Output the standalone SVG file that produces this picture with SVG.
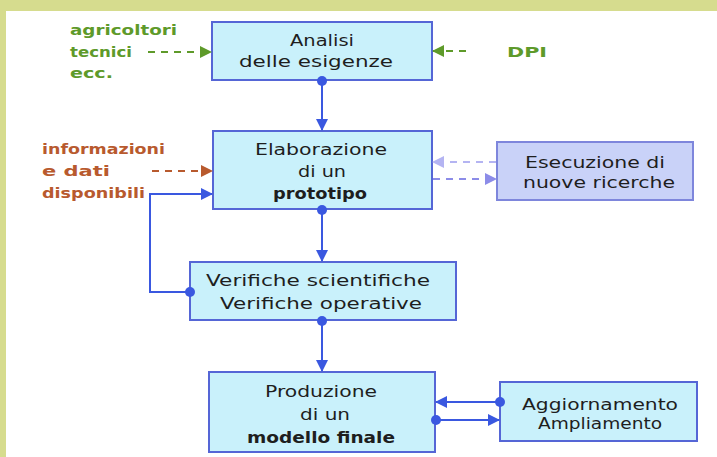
<svg xmlns="http://www.w3.org/2000/svg" width="717" height="457" viewBox="0 0 717 457">
<style>
.box{fill:#c9f1fb;stroke:#5566d6;stroke-width:2}
.box2{fill:#c9d2f8;stroke:#7e86dc;stroke-width:2}
.t{font-family:"DejaVu Sans",Verdana,sans-serif;font-size:16px;fill:#1e1e1e}
.b{font-weight:bold}
.g{font-family:"DejaVu Sans",Verdana,sans-serif;font-size:14px;font-weight:bold;fill:#5e9a2a}
.r{font-family:"DejaVu Sans",Verdana,sans-serif;font-size:14px;font-weight:bold;fill:#b85a2e}
.c{fill:none;stroke:#3a58e0;stroke-width:2}
.dot{fill:#3a58e0}
</style>
<defs>
<marker id="ab" markerUnits="userSpaceOnUse" markerWidth="12" markerHeight="12" refX="11" refY="6" orient="auto"><path d="M0,0 L12,6 L0,12 z" fill="#3a58e0"/></marker>
<marker id="ag" markerUnits="userSpaceOnUse" markerWidth="12" markerHeight="12" refX="11" refY="6" orient="auto"><path d="M0,0 L12,6 L0,12 z" fill="#5e9a2a"/></marker>
<marker id="ar" markerUnits="userSpaceOnUse" markerWidth="12" markerHeight="12" refX="11" refY="6" orient="auto"><path d="M0,0 L12,6 L0,12 z" fill="#b85a2e"/></marker>
<marker id="ap" markerUnits="userSpaceOnUse" markerWidth="12" markerHeight="12" refX="11" refY="6" orient="auto"><path d="M0,0 L12,6 L0,12 z" fill="#8c8ce8"/></marker>
<marker id="al" markerUnits="userSpaceOnUse" markerWidth="12" markerHeight="12" refX="11" refY="6" orient="auto"><path d="M0,0 L12,6 L0,12 z" fill="#b4b4f2"/></marker>
</defs>
<rect x="0" y="0" width="717" height="457" fill="#d6dc8e"/>
<rect x="6" y="11" width="711" height="446" fill="#ffffff"/>

<g id="labels-left">
<text class="g" x="70" y="35" textLength="107" lengthAdjust="spacingAndGlyphs">agricoltori</text>
<text class="g" x="70" y="57" textLength="62" lengthAdjust="spacingAndGlyphs">tecnici</text>
<text class="g" x="70" y="78" textLength="43" lengthAdjust="spacingAndGlyphs">ecc.</text>
</g>
<g id="label-dpi">
<text class="g" x="507" y="57" font-size="16" textLength="40" lengthAdjust="spacingAndGlyphs">DPI</text>
</g>
<g id="label-info">
<text class="r" x="42" y="154" textLength="123" lengthAdjust="spacingAndGlyphs">informazioni</text>
<text class="r" x="42" y="176" textLength="68" lengthAdjust="spacingAndGlyphs">e dati</text>
<text class="r" x="42" y="198" textLength="103" lengthAdjust="spacingAndGlyphs">disponibili</text>
</g>

<g id="analisi">
<rect class="box" x="212" y="22" width="220" height="58"/>
<text class="t" x="290" y="46" textLength="64" lengthAdjust="spacingAndGlyphs">Analisi</text>
<text class="t" x="239" y="67" textLength="154" lengthAdjust="spacingAndGlyphs">delle esigenze</text>
</g>

<g id="elaborazione">
<rect class="box" x="213" y="131" width="219" height="78"/>
<text class="t" x="255" y="155" textLength="132" lengthAdjust="spacingAndGlyphs">Elaborazione</text>
<text class="t" x="298" y="177" textLength="48" lengthAdjust="spacingAndGlyphs">di un</text>
<text class="t b" x="273" y="199" textLength="94" lengthAdjust="spacingAndGlyphs">prototipo</text>
</g>

<g id="esecuzione">
<rect class="box2" x="497" y="142" width="196" height="58"/>
<text class="t" x="525" y="168" textLength="140" lengthAdjust="spacingAndGlyphs">Esecuzione di</text>
<text class="t" x="523" y="188" textLength="152" lengthAdjust="spacingAndGlyphs">nuove ricerche</text>
</g>

<g id="verifiche">
<rect class="box" x="190" y="262" width="266" height="58"/>
<text class="t" x="206" y="286" textLength="224" lengthAdjust="spacingAndGlyphs">Verifiche scientifiche</text>
<text class="t" x="220" y="309" textLength="202" lengthAdjust="spacingAndGlyphs">Verifiche operative</text>
</g>

<g id="produzione">
<rect class="box" x="209" y="372" width="226" height="80"/>
<text class="t" x="265" y="397" textLength="112" lengthAdjust="spacingAndGlyphs">Produzione</text>
<text class="t" x="300" y="420" textLength="50" lengthAdjust="spacingAndGlyphs">di un</text>
<text class="t b" x="247" y="443" textLength="148" lengthAdjust="spacingAndGlyphs">modello  finale</text>
</g>

<g id="aggiornamento">
<rect class="box" x="500" y="382" width="197" height="59"/>
<text class="t" x="522" y="410" textLength="156" lengthAdjust="spacingAndGlyphs">Aggiornamento</text>
<text class="t" x="538" y="429" textLength="124" lengthAdjust="spacingAndGlyphs">Ampliamento</text>
</g>

<g id="connectors">
<line class="c" x1="322" y1="80" x2="322" y2="130" marker-end="url(#ab)"/>
<circle class="dot" cx="322" cy="81" r="5"/>
<line class="c" x1="322" y1="209" x2="322" y2="261" marker-end="url(#ab)"/>
<circle class="dot" cx="322" cy="210" r="5"/>
<line class="c" x1="322" y1="320" x2="322" y2="371" marker-end="url(#ab)"/>
<circle class="dot" cx="322" cy="321" r="5"/>
<polyline class="c" points="189,292 150,292 150,194 212,194" marker-end="url(#ab)"/>
<circle class="dot" cx="190" cy="292" r="5"/>
<line class="c" x1="500" y1="402" x2="436" y2="402" marker-end="url(#ab)"/>
<circle class="dot" cx="500" cy="402" r="5"/>
<line class="c" x1="435" y1="420" x2="499" y2="420" marker-end="url(#ab)"/>
<circle class="dot" cx="436" cy="420" r="5"/>
<line x1="148" y1="52" x2="211" y2="52" stroke="#5e9a2a" stroke-width="2" stroke-dasharray="7,6" marker-end="url(#ag)"/>
<line x1="466" y1="51" x2="433" y2="51" stroke="#5e9a2a" stroke-width="2" stroke-dasharray="7,6" marker-end="url(#ag)"/>
<line x1="152" y1="171" x2="212" y2="171" stroke="#b85a2e" stroke-width="2" stroke-dasharray="7,6" marker-end="url(#ar)"/>
<line x1="496" y1="162" x2="433" y2="162" stroke="#b4b4f2" stroke-width="2" stroke-dasharray="7,6" marker-end="url(#al)"/>
<line x1="433" y1="179" x2="496" y2="179" stroke="#8c8ce8" stroke-width="2" stroke-dasharray="7,6" marker-end="url(#ap)"/>
</g>
</svg>
